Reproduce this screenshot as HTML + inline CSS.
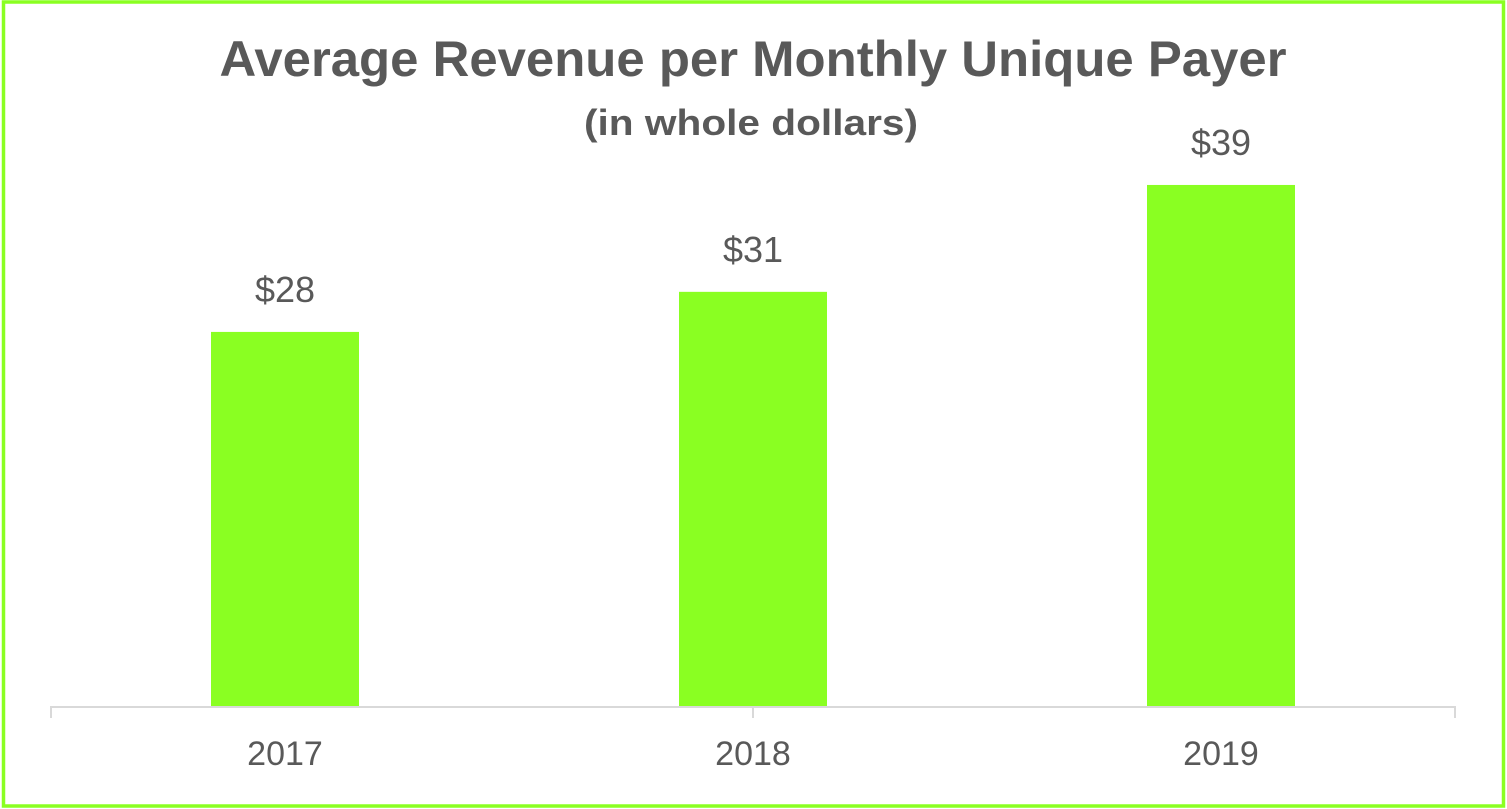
<!DOCTYPE html>
<html><head><meta charset="utf-8">
<style>
html,body{margin:0;padding:0;background:#fff;}
svg{display:block;}
text{font-family:"Liberation Sans",Arial,sans-serif;fill:#595959;}
</style></head>
<body>
<svg width="1507" height="809" viewBox="0 0 1507 809">
  <rect x="3.5" y="2" width="1500" height="804" fill="#fff" stroke="#8AFF22" stroke-width="3.5"/>
  <text x="753" y="76" text-anchor="middle" font-size="50" font-weight="bold" textLength="1067" lengthAdjust="spacingAndGlyphs">Average Revenue per Monthly Unique Payer</text>
  <text x="751" y="135" text-anchor="middle" font-size="36" font-weight="bold" textLength="334" lengthAdjust="spacingAndGlyphs">(in whole dollars)</text>
  <g id="plot"></g>
</svg>
<script>
const categories = ["2017", "2018", "2019"];
const values = [28, 31, 39];
const valueLabels = ["$28", "$31", "$39"];

const ns = "http://www.w3.org/2000/svg";
const plot = document.getElementById("plot");
const axisLeft = 51, bandW = 468, baseY = 706, pxPerUnit = 13.36, barW = 148;
function xCenter(i){ return axisLeft + bandW * (i + 0.5); }
function yScale(v){ return baseY - v * pxPerUnit; }

categories.forEach((c, i) => {
  const y = yScale(values[i]);
  const r = document.createElementNS(ns, "rect");
  r.setAttribute("x", xCenter(i) - barW / 2);
  r.setAttribute("y", y);
  r.setAttribute("width", barW);
  r.setAttribute("height", baseY - y);
  r.setAttribute("fill", "#8AFF22");
  
  
  plot.appendChild(r);

  const t = document.createElementNS(ns, "text");
  t.setAttribute("x", xCenter(i));
  t.setAttribute("y", y - 30);
  t.setAttribute("text-anchor", "middle");
  t.setAttribute("font-size", "36");
  t.textContent = valueLabels[i];
  
  
  plot.appendChild(t);

  const l = document.createElementNS(ns, "text");
  l.setAttribute("x", xCenter(i));
  l.setAttribute("y", 765);
  l.setAttribute("text-anchor", "middle");
  l.setAttribute("font-size", "34");
  l.textContent = c;
  
  
  plot.appendChild(l);
});

const axis = document.createElementNS(ns, "path");
const axisRight = axisLeft + bandW * categories.length;
const mid = axisLeft + bandW * categories.length / 2;
axis.setAttribute("d", `M${axisLeft} 718 V707 H${axisRight} V718 M${mid} 707 V718`);
axis.setAttribute("stroke", "#D9D9D9");
axis.setAttribute("stroke-width", "2");
axis.setAttribute("fill", "none");


plot.appendChild(axis);
</script>
</body></html>
